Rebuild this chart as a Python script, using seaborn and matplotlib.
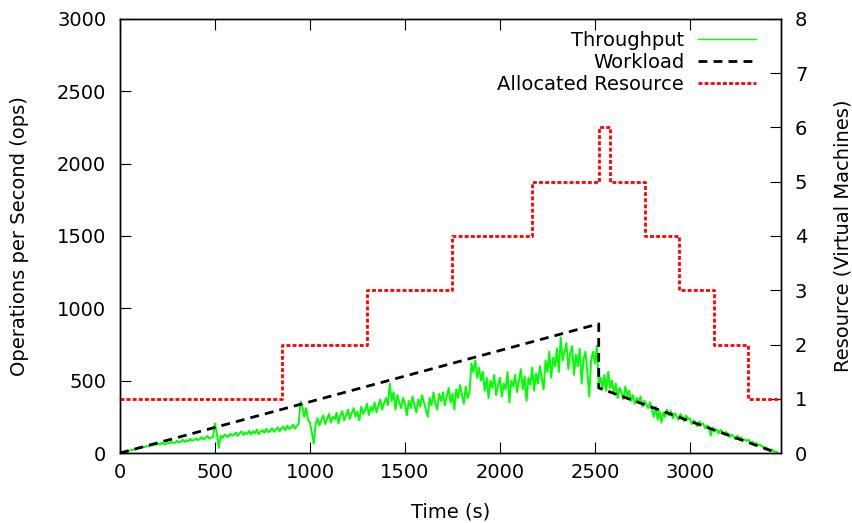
import numpy as np
import pandas as pd
import seaborn as sns
import matplotlib
matplotlib.use("Agg")
import matplotlib.pyplot as plt
from matplotlib.lines import Line2D

tp_step = 10
throughput = [
    0, 5, 6, 11, 12, 18, 19, 25, 26, 31,
    35, 36, 42, 41, 48, 47, 53, 52, 60, 56,
    66, 58, 72, 62, 60, 74, 66, 80, 69, 70,
    84, 72, 78, 92, 76, 88, 80, 98, 84, 90,
    102, 88, 96, 110, 92, 104, 118, 98, 106, 112,
    205, 130, 35, 120, 104, 128, 116, 110, 134, 120,
    126, 142, 118, 136, 150, 124, 140, 132, 154, 128,
    150, 136, 162, 130, 148, 158, 140, 168, 144, 152,
    172, 146, 160, 178, 150, 170, 182, 156, 190, 166,
    176, 196, 168, 186, 200, 355, 320, 250, 310, 230,
    210, 140, 65, 200, 240, 190, 230, 260, 200, 236,
    270, 210, 250, 232, 280, 205, 262, 290, 226, 258,
    300, 236, 276, 310, 250, 286, 226, 320, 270, 296,
    340, 262, 318, 290, 350, 280, 330, 370, 300, 345,
    380, 330, 480, 360, 420, 300, 400, 350, 310, 380,
    340, 260, 360, 310, 390, 330, 280, 370, 320, 400,
    350, 300, 250, 380, 330, 420, 340, 300, 410, 360,
    420, 330, 390, 450, 350, 410, 300, 440, 380, 470,
    400, 340, 460, 380, 420, 620, 560, 640, 520, 590,
    500, 560, 430, 520, 380, 500, 450, 540, 400, 470,
    520, 390, 480, 440, 560, 350, 500, 460, 540, 420,
    500, 580, 440, 530, 360, 520, 470, 590, 430, 550,
    480, 600, 520, 440, 640, 560, 700, 520, 660, 600,
    720, 560, 800, 640, 700, 760, 580, 690, 740, 540,
    680, 600, 720, 480, 650, 700, 560, 390, 640, 700,
    620, 740, 470, 520, 440, 540, 430, 560, 450, 500,
    410, 480, 380, 450, 420, 370, 460, 390, 430, 360,
    400, 340, 380, 350, 390, 320, 360, 340, 310, 350,
    300, 250, 320, 230, 290, 210, 280, 250, 300, 260,
    290, 240, 275, 255, 230, 270, 250, 220, 260, 235,
    240, 200, 225, 210, 185, 220, 195, 205, 170, 190,
    180, 120, 175, 150, 165, 135, 160, 150, 125, 145,
    135, 110, 128, 115, 95, 120, 100, 108, 88, 95,
    82, 92, 68, 78, 60, 70, 52, 58, 45, 40,
    38, 30, 22, 25, 12, 10, 4,
]
tp_time = np.arange(len(throughput)) * tp_step

# workload (ops)
wl_time = [0, 2520, 2520, 3460]
wl_ops = [0, 893, 450, 0]

# allocated VMs
res_time = [0, 853, 1299, 1748, 2168, 2521, 2579, 2764, 2944, 3125, 3305, 3480]
res_vms = [1, 2, 3, 4, 5, 6, 5, 4, 3, 2, 1, 1]

sns.set_style("ticks", {"xtick.direction": "in", "ytick.direction": "in"})
plt.rcParams["font.family"] = ["DejaVu Sans"]
plt.rcParams["font.size"] = 14
plt.rcParams["text.color"] = "black"
plt.rcParams["axes.labelcolor"] = "black"
plt.rcParams["xtick.color"] = "black"
plt.rcParams["ytick.color"] = "black"

fig = plt.figure(figsize=(8.53, 5.23), dpi=100)
ax = fig.add_axes([0.1407, 0.1338, 0.775, 0.830])
ax2 = ax.twinx()

tp_df = pd.DataFrame({"time": tp_time, "ops": throughput})
wl_df = pd.DataFrame({"time": wl_time, "ops": wl_ops})
res_df = pd.DataFrame({"time": res_time, "vms": res_vms})

wl_dash = (0, (3.2, 2.2))
res_dot = (0, (1.4, 0.8))

sns.lineplot(data=tp_df, x="time", y="ops", ax=ax, color="#00ff00",
             linewidth=1.4, estimator=None, sort=False)
sns.lineplot(data=wl_df, x="time", y="ops", ax=ax, color="black",
             linewidth=2.0, estimator=None, sort=False, linestyle=wl_dash)
sns.lineplot(data=res_df, x="time", y="vms", ax=ax2, color="red",
             linewidth=2.0, estimator=None, sort=False,
             drawstyle="steps-post", linestyle=res_dot)

ax.set_xlim(0, 3480)
ax.set_ylim(0, 3000)
ax2.set_ylim(0, 8)
ax.set_xticks(range(0, 3001, 500))
ax.set_yticks(range(0, 3001, 500))
ax2.set_yticks(range(0, 9))

ax.set_xlabel("Time (s)", fontsize=14, labelpad=15)
ax.set_ylabel("Operations per Second (ops)", fontsize=14, labelpad=20)
ax2.set_ylabel("Resource (Virtual Machines)", fontsize=14, labelpad=19)

ax.tick_params(axis="x", top=True, direction="in", length=8, pad=7, labelsize=14)
ax.tick_params(axis="y", direction="in", length=8, pad=10, labelsize=14)
ax2.tick_params(axis="y", direction="in", length=8, pad=10, labelsize=14)
for a in (ax, ax2):
    for s in a.spines.values():
        s.set_visible(True)
        s.set_linewidth(1.0)
        s.set_color("black")

handles = [
    Line2D([], [], color="#00ff00", linewidth=1.0),
    Line2D([], [], color="black", linewidth=2.0, linestyle=wl_dash),
    Line2D([], [], color="red", linewidth=2.0, linestyle=res_dot),
]
labels = ["Throughput", "Workload", "Allocated Resource"]
ax2.legend(handles, labels, loc="upper right", bbox_to_anchor=(0.974, 0.99),
           frameon=False, markerfirst=False, handlelength=3.0,
           handletextpad=0.7, labelspacing=0.15, fontsize=14, borderaxespad=0)

fig.savefig("out.png", dpi=100)
